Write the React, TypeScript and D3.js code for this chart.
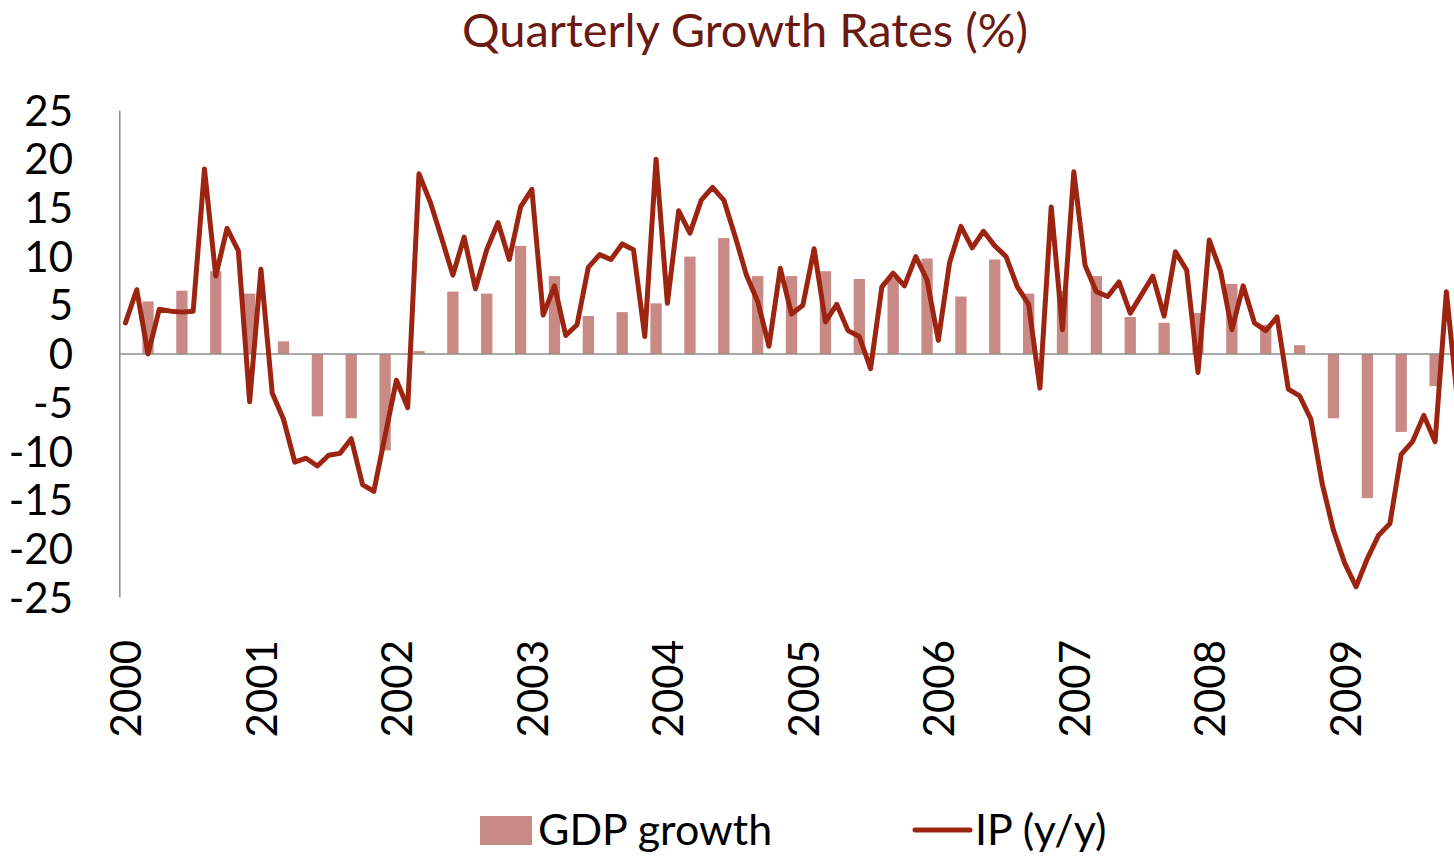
import React, { useEffect, useRef } from 'react';
import * as d3 from 'd3';

// quarterly GDP growth, Q1 2000 .. Q3 2009
const gdpGrowth = [
  5.4, 6.5, 8.5, 6.2,
  1.3, -6.4, -6.6, -9.9,
  0.3, 6.4, 6.2, 11.1,
  8.0, 3.9, 4.3, 5.2,
  10.0, 11.9, 8.0, 8.0,
  8.5, 7.7, 7.8, 9.8,
  5.9, 9.7, 6.2, 6.5,
  8.0, 3.8, 3.2, 4.2,
  7.2, 3.0, 0.9, -6.6,
  -14.8, -8.0, -3.3,
];

// monthly industrial production y/y, Jan 2000 .. Nov 2009
const ipYoY = [
  3.2, 6.6, 0, 4.6, 4.4, 4.3, 4.4, 19.0, 8.0, 12.9, 10.6, -4.9,
  8.7, -4.0, -6.7, -11.1, -10.7, -11.5, -10.4, -10.2, -8.7, -13.4, -14.1, -8.4,
  -2.7, -5.5, 18.5, 15.6, 11.9, 8.1, 12.0, 6.7, 10.7, 13.5, 9.7, 15.1,
  16.9, 4.0, 7.0, 1.9, 3.0, 8.9, 10.2, 9.7, 11.3, 10.7, 1.8, 20.0,
  5.2, 14.7, 12.4, 15.8, 17.1, 15.8, 12.1, 8.1, 5.4, 0.8, 8.8, 4.1,
  5.0, 10.8, 3.3, 5.1, 2.4, 1.8, -1.5, 6.9, 8.3, 7.0, 10.0, 7.6,
  1.4, 9.4, 13.1, 10.9, 12.6, 11.1, 10.0, 6.9, 5.1, -3.5, 15.1, 2.5,
  18.7, 9.1, 6.4, 5.9, 7.4, 4.2, 6.1, 8.0, 3.9, 10.5, 8.6, -1.9,
  11.7, 8.5, 2.5, 7.0, 3.2, 2.4, 3.8, -3.6, -4.3, -6.7, -13.3, -18.1,
  -21.5, -23.9, -21.0, -18.6, -17.4, -10.3, -9.0, -6.3, -9.0, 6.4, -5,
];

const years = ['2000', '2001', '2002', '2003', '2004', '2005', '2006', '2007', '2008', '2009'];
const yTicks = [25, 20, 15, 10, 5, 0, -5, -10, -15, -20, -25];

const W = 1454;
const H = 857;
const FONT = 'Lato, "Open Sans", sans-serif';

function Chart() {
  const ref = useRef<SVGSVGElement>(null);

  useEffect(() => {
    const svg = d3.select(ref.current);
    svg.selectAll('*').remove();

    // one band per month
    const months = d3.range(years.length * 12);
    const x = d3.scaleBand<number>()
      .domain(months)
      .range([119.8, 119.8 + months.length * 11.29])
      .padding(0);
    const y = d3.scaleLinear().domain([-25, 25]).range([597.5, 110.5]);
    const bw = x.bandwidth();

    svg.append('text')
      .attr('x', 745)
      .attr('y', 47)
      .attr('text-anchor', 'middle')
      .attr('fill', '#6a1a12')
      .style('font-family', FONT)
      .style('font-size', '47px')
      .text('Quarterly Growth Rates (%)');

    // bars, placed on the last month of each quarter
    svg.append('g')
      .selectAll('rect')
      .data(gdpGrowth)
      .enter()
      .append('rect')
      .attr('x', (d, i) => x(i * 3 + 2)!)
      .attr('y', d => y(Math.max(0, d)))
      .attr('width', bw)
      .attr('height', d => Math.abs(y(d) - y(0)))
      .attr('fill', '#c98a85');

    // axes
    svg.append('line')
      .attr('x1', 119.8).attr('x2', W)
      .attr('y1', y(0)).attr('y2', y(0))
      .attr('stroke', '#8c8c8c').attr('stroke-width', 1.5);
    svg.append('line')
      .attr('x1', 119.8).attr('x2', 119.8)
      .attr('y1', y(25)).attr('y2', y(-25))
      .attr('stroke', '#8c8c8c').attr('stroke-width', 1.5);

    const line = d3.line<number>()
      .x((d, i) => x(i)! + bw / 2)
      .y(d => y(d));

    svg.append('path')
      .datum(ipYoY)
      .attr('d', line)
      .attr('fill', 'none')
      .attr('stroke', '#9c2410')
      .attr('stroke-width', 5)
      .attr('stroke-linejoin', 'round')
      .attr('stroke-linecap', 'round');

    svg.append('g')
      .selectAll('text')
      .data(yTicks)
      .enter()
      .append('text')
      .attr('x', 73)
      .attr('y', d => y(d))
      .attr('dy', '0.36em')
      .attr('text-anchor', 'end')
      .style('font-family', FONT)
      .style('font-size', '42px')
      .text(d => d);

    svg.append('g')
      .selectAll('text')
      .data(years)
      .enter()
      .append('text')
      .attr('transform', (d, i) => `translate(${x(i * 12)! + bw / 2 + 16},640) rotate(-90)`)
      .attr('text-anchor', 'end')
      .style('font-family', FONT)
      .style('font-size', '42px')
      .text(d => d);

    // legend
    const lg = svg.append('g').style('font-family', FONT).style('font-size', '43px');
    lg.append('rect').attr('x', 480).attr('y', 816).attr('width', 52).attr('height', 29).attr('fill', '#c98a85');
    lg.append('text').attr('x', 538).attr('y', 845).text('GDP growth');
    lg.append('line')
      .attr('x1', 915).attr('x2', 970).attr('y1', 830).attr('y2', 830)
      .attr('stroke', '#9c2410').attr('stroke-width', 5).attr('stroke-linecap', 'round');
    lg.append('text').attr('x', 975).attr('y', 845).text('IP (y/y)');
  }, []);

  return <svg ref={ref} width={W} height={H} style={{ position: 'absolute', left: 0, top: 0, background: '#fff' }} />;
}

export default function App() {
  return <Chart />;
}
